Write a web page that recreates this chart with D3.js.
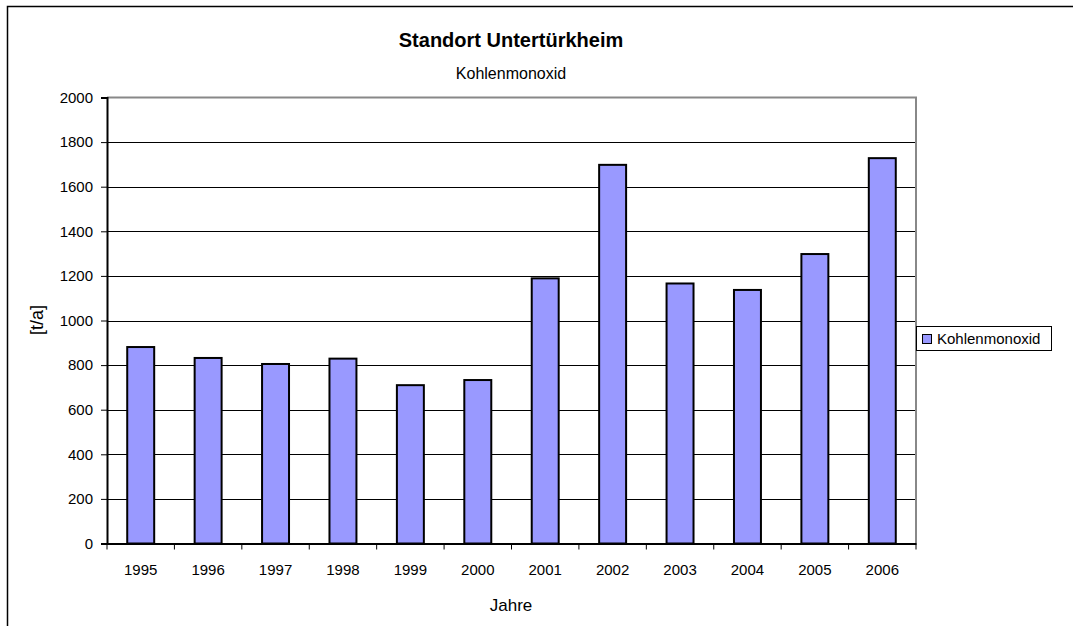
<!DOCTYPE html>
<html><head><meta charset="utf-8">
<script src="https://cdn.jsdelivr.net/npm/d3@7"></script>
<style>body{margin:0;background:#fff}svg{display:block}text{font-family:"Liberation Sans",Arial,sans-serif;fill:#000}</style>
</head><body><svg id="c" width="1073" height="626"></svg>
<script>
const years = ["1995","1996","1997","1998","1999","2000","2001","2002","2003","2004","2005","2006"];
const values = [881, 832, 805, 829, 710, 733, 1189, 1698, 1166, 1137, 1298, 1728];
const yTicks = [0,200,400,600,800,1000,1200,1400,1600,1800,2000];
const seriesName = "Kohlenmonoxid";

const svg = d3.select("#c");
const m = {l:107, t:97.5, r:916, b:543.5};
const x = d3.scaleBand().domain(years).range([m.l, m.r]).paddingInner(0.6).paddingOuter(0.3);
const xb = d3.scaleBand().domain(years).range([m.l, m.r]);
const y = d3.scaleLinear().domain([0,2000]).range([m.b, m.t]);

svg.append("rect").attr("x",7.5).attr("y",6.5).attr("width",1100).attr("height",700)
  .attr("fill","none").attr("stroke","#000").attr("stroke-width",1.5);

svg.append("g").selectAll("line").data(yTicks.filter(d=>d>0 && d<2000)).join("line")
  .attr("x1",m.l).attr("x2",m.r).attr("y1",d=>Math.round(y(d))+0.5).attr("y2",d=>Math.round(y(d))+0.5)
  .attr("stroke","#000").attr("stroke-width",1);

svg.append("path").attr("d",`M${m.l},${m.t}H${m.r}V${m.b}`).attr("fill","none").attr("stroke","#888").attr("stroke-width",2);

svg.append("g").selectAll("rect").data(years).join("rect")
  .attr("x",d=>x(d)).attr("width",x.bandwidth())
  .attr("y",(d,i)=>y(values[i])).attr("height",(d,i)=>y(0)-y(values[i]))
  .attr("fill","#9999FF").attr("stroke","#000").attr("stroke-width",2);

const ya = svg.append("g").attr("transform",`translate(${m.l},0)`)
  .call(d3.axisLeft(y).tickValues(yTicks).tickSize(6).tickPadding(8).tickFormat(d3.format("d")));
ya.select(".domain").attr("stroke","#000").attr("stroke-width",2);
ya.selectAll(".tick line").attr("stroke","#000");
ya.selectAll("text").attr("font-size",15).attr("font-family","Liberation Sans, Arial, sans-serif");

const xa = svg.append("g").attr("transform",`translate(0,${m.b})`)
  .call(d3.axisBottom(xb).tickSize(0).tickPadding(21));
xa.select(".domain").attr("stroke","#000").attr("stroke-width",2);
xa.selectAll("text").attr("font-size",15).attr("font-family","Liberation Sans, Arial, sans-serif");
const bounds = years.map(d=>xb(d)).concat([m.r]);
xa.selectAll(".sep").data(bounds).join("line").attr("class","sep")
  .attr("x1",d=>d).attr("x2",d=>d).attr("y1",0).attr("y2",6).attr("stroke","#000");

svg.append("text").attr("x",511).attr("y",47).attr("text-anchor","middle").attr("font-size",20).attr("font-weight","bold").text("Standort Untertürkheim");
svg.append("text").attr("x",511).attr("y",79).attr("text-anchor","middle").attr("font-size",16).text(seriesName);
svg.append("text").attr("x",511).attr("y",611).attr("text-anchor","middle").attr("font-size",17).text("Jahre");
svg.append("text").attr("transform","translate(43,320) rotate(-90)").attr("text-anchor","middle").attr("font-size",18).text("[t/a]");

const lg = svg.append("g").attr("transform","translate(916,326)");
lg.append("rect").attr("x",0.5).attr("y",0.5).attr("width",135).attr("height",24).attr("fill","#fff").attr("stroke","#000");
lg.append("rect").attr("x",6.5).attr("y",8.5).attr("width",9).attr("height",9).attr("fill","#9999FF").attr("stroke","#000");
lg.append("text").attr("x",21).attr("y",18).attr("font-size",15).text(seriesName);
</script></body></html>
